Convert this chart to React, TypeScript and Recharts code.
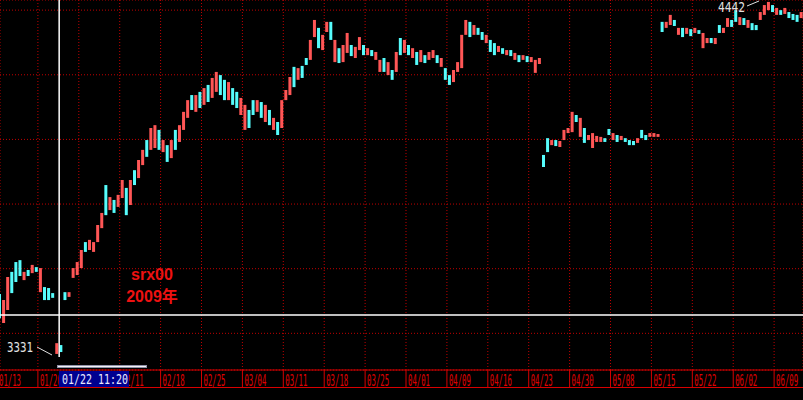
import React from "react";
import { ComposedChart, Bar, Cell, XAxis, YAxis, CartesianGrid, ReferenceLine } from "recharts";

// High / low of each intraday bar (price)
const highs = [
  3520, 3501, 3574, 3590, 3621, 3627, 3590, 3596, 3612, 3605,
  3602, 3542, 3539, 3523, 3365, 3359, 3526, 3526, 3602, 3621,
  3659, 3684, 3691, 3684, 3738, 3776, 3864, 3826, 3817, 3833,
  3880, 3855, 3880, 3911, 3943, 3975, 4006, 4044, 4053, 4038,
  4006, 3990, 4006, 4038, 4053, 4095, 4132, 4148, 4148, 4158,
  4170, 4180, 4202, 4221, 4211, 4196, 4189, 4170, 4158, 4139,
  4117, 4101, 4132, 4132, 4126, 4117, 4101, 4076, 4063, 4132,
  4164, 4205, 4237, 4233, 4240, 4265, 4322, 4385, 4360, 4338,
  4379, 4379, 4322, 4296, 4306, 4344, 4306, 4300, 4331, 4306,
  4296, 4290, 4284, 4259, 4265, 4252, 4227, 4284, 4328, 4322,
  4306, 4296, 4284, 4290, 4274, 4284, 4290, 4274, 4265, 4233,
  4211, 4227, 4252, 4338, 4385, 4379, 4369, 4360, 4347, 4338,
  4322, 4312, 4303, 4296, 4290, 4290, 4281, 4274, 4274, 4271,
  4268, 4259, 4265, 3959, 4012, 4006, 4006, 4003, 4038, 4044,
  4095, 4085, 4076, 4044, 4022, 4028, 4019, 4016, 4012, 4041,
  4028, 4022, 4019, 4012, 4006, 4003, 4012, 4038, 4022, 4028,
  4028, 4025, 4379, 4379, 4401, 4385, 4360, 4360, 4360, 4356,
  4360, 4353, 4344, 4328, 4328, 4328, 4369, 4360, 4391, 4385,
  4416, 4394, 4391, 4385, 4375, 4369, 4410, 4432, 4442, 4432,
  4423, 4416, 4423, 4410, 4404, 4401, 4410,
];

const lows = [
  3444, 3429, 3470, 3523, 3558, 3577, 3564, 3577, 3586, 3590,
  3526, 3501, 3501, 3508, 3331, 3337, 3501, 3511, 3571, 3580,
  3602, 3653, 3659, 3653, 3684, 3728, 3769, 3785, 3776, 3795,
  3823, 3769, 3801, 3864, 3886, 3927, 3953, 3975, 3981, 3975,
  3968, 3937, 3949, 3975, 4000, 4038, 4076, 4101, 4095, 4107,
  4117, 4126, 4139, 4158, 4148, 4132, 4132, 4117, 4107, 4085,
  4038, 4044, 4085, 4095, 4076, 4063, 4053, 4038, 4022, 4044,
  4132, 4148, 4173, 4196, 4202, 4243, 4259, 4331, 4296, 4290,
  4347, 4322, 4252, 4249, 4252, 4281, 4271, 4265, 4290, 4274,
  4274, 4271, 4259, 4221, 4221, 4211, 4196, 4221, 4274, 4281,
  4274, 4265, 4243, 4252, 4249, 4259, 4265, 4249, 4237, 4196,
  4180, 4189, 4221, 4233, 4338, 4331, 4338, 4338, 4322, 4312,
  4284, 4274, 4284, 4278, 4274, 4271, 4259, 4252, 4259, 4252,
  4252, 4218, 4246, 3921, 3968, 3990, 3987, 3984, 4006, 4028,
  4031, 4063, 4016, 3997, 4006, 3981, 4000, 4000, 4000, 4022,
  4006, 4000, 4006, 4000, 3990, 3990, 3997, 4012, 4006, 4016,
  4016, 4016, 4347, 4360, 4369, 4366, 4338, 4331, 4341, 4334,
  4344, 4341, 4296, 4312, 4312, 4309, 4344, 4344, 4363, 4363,
  4379, 4369, 4369, 4360, 4353, 4353, 4385, 4401, 4416, 4410,
  4401, 4401, 4404, 4391, 4385, 4379, 4391,
];

// r = rising (red), c = falling (cyan)
const trend = (
  "crrcccrcrc" + "rcccrccrrr" + "rcrrrrcrcr" + "rcrcrrcrrc" + "rcrcrrrcrc" +
  "rcrrccrccr" + "rccrcrcrcr" + "rrcrccrrcr" + "rcrcrrcrrc" + "rcrrcrcrcr" +
  "crcrcrrcrc" + "crrrrcrccr" + "ccrcrcrcrc" + "rrrccrcrrr" + "rcrcrrrrcc" +
  "rcrcccrccr" + "rrcrrcrcrc" + "rcrrcrcrrc" + "crcrccrrrc" + "rcrcccr"
).split("");

const weekTicks = [0, 10, 20, 30, 40, 50, 60, 70, 80, 90, 100, 110, 120, 130, 140, 150, 160, 170, 180, 190];
const weekLabels = [
  "01/13", "01/20", "02/04", "02/11", "02/18", "02/25", "03/04", "03/11", "03/18", "03/25",
  "04/01", "04/09", "04/16", "04/23", "04/30", "05/08", "05/15", "05/22", "06/02", "06/09",
];
const gridPrices = [4416, 4212, 4008, 3804, 3600, 3396];
const crossPrice = 3454;
const crossBar = 15.2;
const cursorLabel = "01/22 11:20";
const symbolName = "srx00";
const yearName = "2009年";

const UP = "#ff5656";
const DOWN = "#56fcfc";
const AXIS_RED = "#d80000";

const data = highs.map((h, i) => ({ x: i + 0.5, range: [lows[i], h], up: trend[i] === "r" }));
const minLow = Math.min(...lows);
const maxHigh = Math.max(...highs);

function DateTick(props: any) {
  const { x, y, payload } = props;
  const idx = weekTicks.indexOf(payload.value);
  const label = weekLabels[idx];
  return (
    <g>
      <line x1={x} x2={x} y1={y} y2={y + 17} stroke={AXIS_RED} strokeWidth={1} />
      <text
        x={x + 2}
        y={y + 15.5}
        fill="#e00000"
        fontSize={15}
        fontFamily="DejaVu Sans Mono"
        textLength={22}
        lengthAdjust="spacingAndGlyphs"
      >
        {label}
      </text>
    </g>
  );
}

export default function App() {
  return (
    <div style={{ position: "fixed", left: 0, top: 0, width: 803, height: 400, background: "#000", overflow: "hidden" }}>
      <ComposedChart width={803} height={400} data={data} margin={{ top: 0, right: 0, bottom: 0, left: 0 }}>
        <CartesianGrid stroke="#c00000" strokeDasharray="1 2" />
        <XAxis
          type="number"
          dataKey="x"
          domain={[0.733, 197.06]}
          allowDataOverflow
          ticks={weekTicks}
          interval={0}
          height={30}
          tickSize={0}
          tickMargin={0}
          tickLine={false}
          axisLine={{ stroke: AXIS_RED }}
          tick={<DateTick />}
        />
        <YAxis hide domain={[3280.3, 4448]} allowDataOverflow ticks={gridPrices} />
        <Bar dataKey="range" barSize={3} isAnimationActive={false}>
          {data.map((d, i) => (
            <Cell key={i} fill={d.up ? UP : DOWN} />
          ))}
        </Bar>
        <ReferenceLine y={crossPrice} stroke="#ffffff" strokeWidth={1.5} />
        <ReferenceLine
          segment={[{ x: crossBar, y: 3321 }, { x: crossBar, y: 4448 }]}
          stroke="#ffffff"
          strokeWidth={1.5}
        />
      </ComposedChart>
      <svg width={803} height={400} style={{ position: "absolute", left: 0, top: 0, pointerEvents: "none" }}>
        <line x1={0} x2={803} y1={387.5} y2={387.5} stroke={AXIS_RED} strokeWidth={1} />
        <rect x={57.5} y={365.5} width={89} height={2} fill="#f4f4f4" stroke="#9090a8" strokeWidth={1} />
        <rect x={59} y={371} width={70} height={16} fill="#000090" />
        <text x={62} y={384} fill="#e8e8ff" fontSize={14} fontFamily="DejaVu Sans Mono" textLength={66} lengthAdjust="spacingAndGlyphs">
          {cursorLabel}
        </text>
        <text x={7} y={352} fill="#e0e0e0" fontSize={14} fontFamily="DejaVu Sans Mono" textLength={26} lengthAdjust="spacingAndGlyphs">
          {String(minLow)}
        </text>
        <line x1={37} y1={347} x2={52} y2={355} stroke="#e0e0e0" strokeWidth={1} />
        <text x={718} y={12} fill="#e0e0e0" fontSize={14} fontFamily="DejaVu Sans Mono" textLength={27} lengthAdjust="spacingAndGlyphs">
          {String(maxHigh)}
        </text>
        <line x1={747} y1={6} x2={759} y2={1} stroke="#e0e0e0" strokeWidth={1} />
        <text x={152} y={280} fill="#ee1111" fontSize={16} fontWeight="bold" fontFamily="Liberation Sans, Arial" textAnchor="middle">
          {symbolName}
        </text>
        <text x={152} y={302} fill="#ee1111" fontSize={16} fontWeight="bold" fontFamily="Liberation Sans, 'Noto Sans CJK SC', Arial" textAnchor="middle">
          {yearName}
        </text>
      </svg>
    </div>
  );
}
